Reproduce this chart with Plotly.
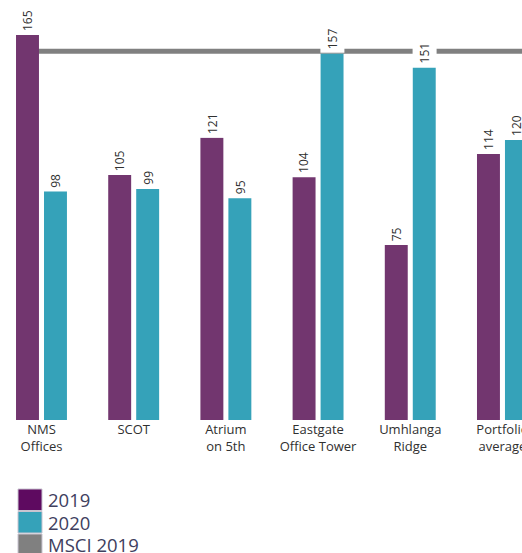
import plotly.graph_objects as go

categories = ["NMS<br>Offices", "SCOT", "Atrium<br>on 5th", "Eastgate<br>Office Tower",
              "Umhlanga<br>Ridge", "Portfolio<br>average"]
values_2019 = [165, 105, 121, 104, 75, 114]
values_2020 = [98, 99, 95, 157, 151, 120]
msci_2019 = 158
series_names = ["2019", "2020", "MSCI 2019"]

bar_colors = ["#72366f", "#35a2b9"]
legend_colors = ["#5e0a60", "#35a2b9", "#808080"]
FONT = "Open Sans"

W, H = 522, 553
plot_bottom_px = 420
fig = go.Figure()

for name, vals, col in zip(series_names[:2], [values_2019, values_2020], bar_colors):
    fig.add_trace(go.Bar(x=categories, y=vals, name=name, marker_color=col,
                         marker_line_width=0, showlegend=False))

# MSCI line
fig.add_shape(type="line", xref="x", yref="y", x0=-0.14, x1=5.8, y0=msci_2019, y1=msci_2019,
              line=dict(color="#808080", width=5), layer="below")

# value labels
for vals, shift in [(values_2019, -14), (values_2020, 14)]:
    for c, v in zip(categories, vals):
        fig.add_annotation(x=c, y=v, text=str(v), showarrow=False, xshift=shift,
                           yanchor="bottom", xanchor="center", textangle=-90,
                           bgcolor="white", borderpad=3,
                           font=dict(family=FONT, size=12, color="#303030"))

# manual legend
sw_top = 489
sw_h = 22.5
for i, (name, col) in enumerate(zip(series_names, legend_colors)):
    top = sw_top + i * sw_h
    y0 = (plot_bottom_px - top) / plot_bottom_px
    y1 = (plot_bottom_px - (top + sw_h - 1)) / plot_bottom_px
    fig.add_shape(type="rect", xref="paper", yref="paper", x0=18 / W, x1=42 / W,
                  y0=y1, y1=y0, fillcolor=col, line=dict(color="#c9c4d0", width=1))
    fig.add_annotation(xref="paper", yref="paper", x=46 / W, y=(y0 + y1) / 2,
                       text=name, showarrow=False, xanchor="left", yanchor="middle",
                       font=dict(family=FONT, size=18.5, color="#40405e"))

fig.update_layout(
    width=W, height=H,
    margin=dict(l=0, r=0, t=0, b=H - plot_bottom_px),
    paper_bgcolor="white", plot_bgcolor="white",
    barmode="group", bargap=0.393, bargroupgap=0.18,
    showlegend=False,
    xaxis=dict(type="category", range=[-0.45, 5.212], showline=False, showgrid=False,
               ticks="", zeroline=False, automargin=False,
               tickfont=dict(family=FONT, size=13, color="#303030")),
    yaxis=dict(range=[0, 180], visible=False, showgrid=False, zeroline=False),
)

fig.write_html("out.html")
